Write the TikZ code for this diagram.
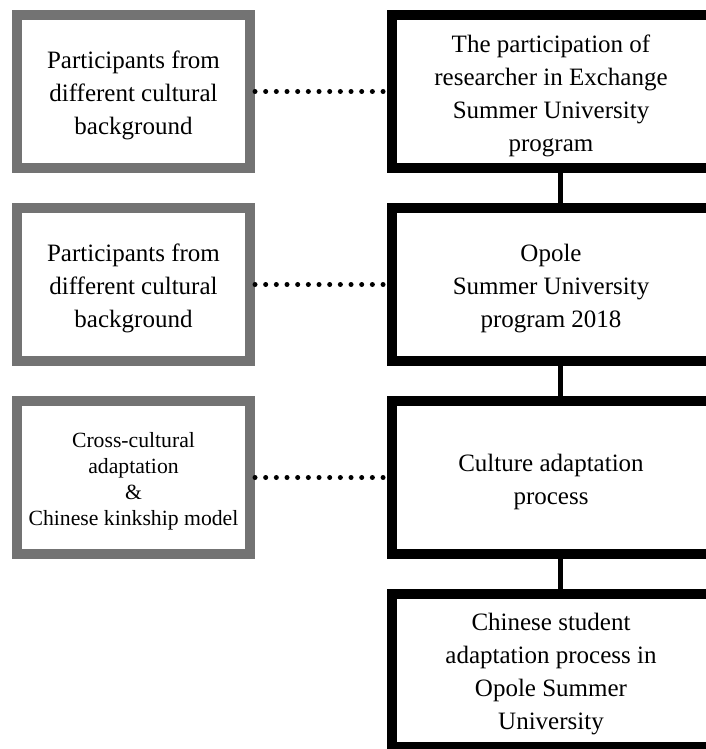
\documentclass[tikz,border=0pt]{standalone}
\usepackage{fontspec}
\setmainfont{Liberation Serif}
\definecolor{framegray}{HTML}{737373}
% centred lines, set a little lower than the middle of the box
\newcommand{\boxtext}[2]{\parbox{#1}{\centering\vspace*{8pt}#2}}
\tikzset{
  leftbox/.style={draw=framegray, line width=10pt, minimum width=233pt, minimum height=153pt,
    inner sep=0pt, font=\fontsize{25}{33}\selectfont},
  rightbox/.style={draw=black, line width=10pt, minimum width=336pt, minimum height=153pt,
    inner sep=0pt, font=\fontsize{25}{33}\selectfont},
  dotlink/.style={line width=5pt, line cap=round, dash pattern=on 0pt off 10.67pt},
  solidlink/.style={line width=5pt}
}
\begin{document}
\begin{tikzpicture}[x=1pt,y=-1pt]
\useasboundingbox (0,0) rectangle (705,749);

\node[leftbox] (L1) at (133.5,91.5) {\boxtext{233pt}{Participants from\\different cultural\\background}};
\node[leftbox] (L2) at (133.5,284.5) {\boxtext{233pt}{Participants from\\different cultural\\background}};
\node[leftbox, font=\fontsize{21.7}{26}\selectfont] (L3) at (133.5,477.5) {\boxtext{233pt}{Cross-cultural\\adaptation\\\&\\Chinese kinkship model}};

% the right frames run off the page, so the text sits left of centre
\node[rightbox] (R1) at (560,91.5) {\boxtext{318pt}{The participation of\\researcher in Exchange\\Summer University\\program}\hspace*{18pt}};
\node[rightbox] (R2) at (560,284.5) {\boxtext{318pt}{Opole\\Summer University\\program 2018}\hspace*{18pt}};
\node[rightbox] (R3) at (560,477.5) {\boxtext{318pt}{Culture adaptation\\process}\hspace*{18pt}};
\node[rightbox] (R4) at (560,670) {\boxtext{318pt}{Chinese student\\adaptation process in\\Opole Summer\\University}\hspace*{18pt}};

\draw[dotlink] (L1.east) -- (R1.west);
\draw[dotlink] (L2.east) -- (R2.west);
\draw[dotlink] (L3.east) -- (R3.west);

\draw[solidlink] (R1.south) -- (R2.north);
\draw[solidlink] (R2.south) -- (R3.north);
\draw[solidlink] (R3.south) -- (R4.north);
\end{tikzpicture}
\end{document}
